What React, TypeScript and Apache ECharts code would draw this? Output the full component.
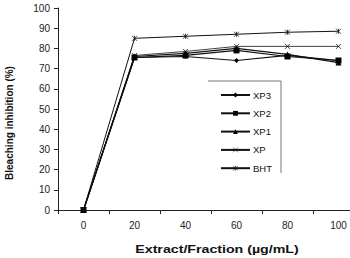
import React, { useEffect, useRef } from "react";
import * as echarts from "echarts";

const categories = ["0", "20", "40", "60", "80", "100"];
const yTicks = [0, 10, 20, 30, 40, 50, 60, 70, 80, 90, 100];

const xp3 = [0, 75.5, 76, 74, 76.5, 74];
const xp2 = [0, 75.5, 76.5, 79, 76, 74];
const xp1 = [0, 76, 77.5, 80, 77, 73];
const xp = [0, 76.5, 78.5, 81, 81, 81];
const bht = [0, 85, 86, 87, 88, 88.5];

const seriesNames = ["XP3", "XP2", "XP1", "XP", "BHT"];

const xTitle = "Extract/Fraction (\u00b5g/mL)";
const yTitle = "Bleaching inhibition (%)";

const CROSS = "path://M0,0L10,10M10,0L0,10";
const STAR = "path://M0,0L10,10M10,0L0,10M5,0L5,10";

export default function App() {
  const ref = useRef<HTMLDivElement>(null);

  useEffect(() => {
    if (!ref.current) return;
    document.body.style.margin = "0";
    const chart = echarts.init(ref.current, undefined, { renderer: "svg" });
    const font = "'Liberation Sans', Arial, sans-serif";

    const mk = (
      name: string,
      data: number[],
      symbol: string,
      symbolSize: number,
      lineWidth: number,
      stroked: boolean
    ) => ({
      name,
      type: "line",
      data,
      symbol,
      symbolSize,
      showSymbol: true,
      lineStyle: { color: "#111", width: lineWidth },
      itemStyle: stroked
        ? { color: "#111", borderColor: "#111", borderWidth: 0.8 }
        : { color: "#000", borderWidth: 0 },
      emphasis: { disabled: true },
    });

    chart.setOption({
      animation: false,
      textStyle: { fontFamily: font },
      grid: {
        left: 58,
        top: 8,
        bottom: 48,
        right: -14,
        containLabel: false,
        outerBoundsMode: "none",
      },
      xAxis: {
        type: "category",
        data: categories,
        boundaryGap: true,
        axisLine: { lineStyle: { color: "#222", width: 1 } },
        axisTick: { show: true, length: 4, lineStyle: { color: "#222" } },
        axisLabel: { color: "#222", fontSize: 10, margin: 10, fontFamily: font },
        splitLine: { show: false },
      },
      yAxis: {
        type: "value",
        min: yTicks[0],
        max: yTicks[yTicks.length - 1],
        interval: 10,
        axisLine: { show: true, lineStyle: { color: "#222", width: 1 } },
        axisTick: { show: true, length: 4, lineStyle: { color: "#222" } },
        axisLabel: { color: "#222", fontSize: 10, margin: 8, fontFamily: font },
        splitLine: { show: false },
      },
      legend: {
        data: seriesNames,
        orient: "vertical",
        left: 215,
        top: 84,
        itemWidth: 29,
        itemHeight: 6,
        itemGap: 6.3,
        itemStyle: { borderWidth: 0.6 },
        textStyle: { color: "#111", fontSize: 9.5, lineHeight: 12, fontFamily: font, padding: [0, 0, 0, -2] },
        selectedMode: false,
      },
      graphic: [
        {
          type: "polyline",
          shape: { points: [[208, 81], [281, 81], [281, 173]] },
          style: { stroke: "#777", lineWidth: 1, fill: "none" },
          silent: true,
        },
        {
          type: "text",
          x: 217,
          y: 250,
          scaleX: 1.42,
          silent: true,
          style: {
            text: xTitle,
            font: `bold 10px ${font}`,
            fill: "#111",
            align: "center",
            verticalAlign: "middle",
          },
        },
        {
          type: "text",
          x: 9,
          y: 123,
          rotation: Math.PI / 2,
          silent: true,
          style: {
            text: yTitle,
            font: `bold 10px ${font}`,
            fill: "#111",
            align: "center",
            verticalAlign: "middle",
          },
        },
      ],
      series: [
        mk("XP3", xp3, "diamond", 5, 1.2, false),
        mk("XP2", xp2, "rect", 6, 1.2, false),
        mk("XP1", xp1, "triangle", 6, 1.2, false),
        mk("XP", xp, CROSS, 5, 0.8, true),
        mk("BHT", bht, STAR, 5, 1, true),
      ],
    });

    return () => chart.dispose();
  }, []);

  return <div ref={ref} style={{ width: 350, height: 258 }} />;
}
